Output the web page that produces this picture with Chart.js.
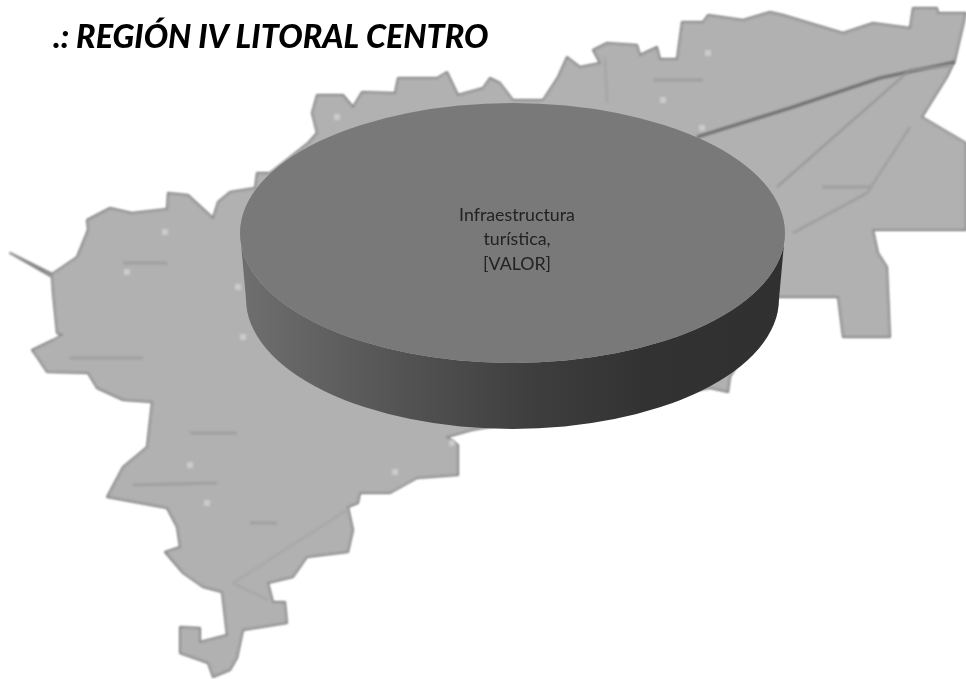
<!DOCTYPE html>
<html>
<head>
<meta charset="utf-8">
<title>Región IV Litoral Centro</title>
<script src="https://cdn.jsdelivr.net/npm/chart.js@4"></script>
<style>
  html, body { margin: 0; background: #fff; }
  canvas { display: block; }
</style>
</head>
<body>
<canvas id="myChart" width="966" height="679"></canvas>
<script>
// data
const categories = ['Infraestructura turística'];
const values = [100];
const labelLines = ['Infraestructura', 'turística,', '[VALOR]'];
const chartTitle = '.: REGIÓN IV LITORAL CENTRO';

// backdrop map
const mapOutline = [
  [10,253],[52,274],[77,257],[88,230],[87,220],[110,208],[132,213],[167,209],[168,193],[188,195],
  [213,218],[218,202],[230,192],[255,188],[257,173],[270,173],[308,143],[317,133],[312,113],[317,95],
  [343,95],[353,107],[362,92],[395,93],[398,78],[437,78],[447,72],[458,95],[483,88],[490,78],
  [500,83],[513,100],[543,100],[558,77],[567,57],[580,67],[600,63],[593,50],[607,43],[637,45],
  [640,55],[657,47],[660,59],[677,59],[682,22],[703,22],[708,15],[743,20],[770,12],[783,15],
  [843,33],[873,23],[910,28],[913,8],[937,8],[938,13],[966,13],[955,60],[947,77],[922,117],
  [966,143],[966,230],[873,230],[878,253],[887,267],[890,337],[843,337],[838,297],[778,297],[730,377],
  [728,392],[710,388],[472,430],[447,437],[458,445],[458,475],[417,478],[390,493],[360,493],[358,503],
  [348,507],[353,530],[348,552],[307,557],[293,577],[268,583],[273,602],[285,602],[287,623],[243,630],
  [237,658],[230,670],[213,677],[208,663],[180,653],[180,627],[200,628],[200,642],[227,635],[222,592],
  [203,587],[183,573],[165,552],[180,547],[177,527],[167,508],[107,497],[123,467],[147,447],[152,402],
  [123,400],[97,388],[88,373],[47,372],[37,357],[32,350],[53,340],[62,335],[57,333],[53,293],[52,277]
];
const mapRoads = [
  { color: '#6f6f6f', width: 3, pts: [[955,62],[880,78],[790,108],[697,137]] },
  { color: '#969696', width: 2, pts: [[950,66],[910,70],[777,187]] },
  { color: '#9c9c9c', width: 2, pts: [[910,127],[867,193],[793,233]] },
  { color: '#a4a4a4', width: 2, pts: [[605,57],[607,103]] },
  { color: '#a6a6a6', width: 2, pts: [[347,510],[233,583],[268,600]] }
];
const mapSmudges = [
  [123,263,167,263],[653,80,703,80],[822,187,872,187],[70,358,143,358],
  [190,433,237,433],[133,485,217,483],[250,523,277,523]
];
const mapDots = [
  [337,117],[165,232],[127,272],[238,287],[243,337],[708,53],[663,100],[702,128],
  [190,465],[207,503],[452,443],[395,472]
];

const tilt = { cx: 512.5, cy: 233, squash: 130 / 272.5, depth: 66 };

const drawPath = function (ctx, pts) {
  ctx.beginPath();
  pts.forEach((p, i) => i ? ctx.lineTo(p[0], p[1]) : ctx.moveTo(p[0], p[1]));
};

const mapPlugin = {
  id: 'mapBackdrop',
  beforeDraw(chart) {
    const ctx = chart.ctx;
    ctx.save();
    ctx.filter = 'blur(1.2px)';
    ctx.lineJoin = 'round';
    drawPath(ctx, mapOutline);
    ctx.closePath();
    ctx.fillStyle = '#b1b1b1';
    ctx.fill();
    ctx.strokeStyle = '#858585';
    ctx.lineWidth = 2;
    ctx.stroke();
    mapRoads.forEach(r => {
      drawPath(ctx, r.pts);
      ctx.strokeStyle = r.color;
      ctx.lineWidth = r.width;
      ctx.stroke();
    });
    ctx.strokeStyle = '#a0a0a0';
    ctx.lineWidth = 3;
    mapSmudges.forEach(s => {
      drawPath(ctx, [[s[0], s[1]], [s[2], s[3]]]);
      ctx.stroke();
    });
    ctx.fillStyle = '#cbcbcb';
    mapDots.forEach(d => ctx.fillRect(d[0] - 3, d[1] - 3, 6, 6));
    ctx.restore();
  }
};

// squash the flat pie to an ellipse and give it a wall
const tiltPlugin = {
  id: 'tiltedPie',
  beforeDatasetsDraw(chart) {
    const ctx = chart.ctx;
    const r = chart.getDatasetMeta(0).data[0].outerRadius;
    const ry = r * tilt.squash;
    const grad = ctx.createLinearGradient(tilt.cx - r, 0, tilt.cx + r, 0);
    grad.addColorStop(0, '#6f6f6f');
    grad.addColorStop(0.3, '#535353');
    grad.addColorStop(0.55, '#3d3d3d');
    grad.addColorStop(0.75, '#323232');
    grad.addColorStop(1, '#303030');
    ctx.save();
    ctx.beginPath();
    ctx.ellipse(tilt.cx, tilt.cy, r, ry, 0, Math.PI, 0, true);
    ctx.ellipse(tilt.cx, tilt.cy + tilt.depth, r - 6, ry, 0, 0, Math.PI, false);
    ctx.closePath();
    ctx.fillStyle = grad;
    ctx.fill();
    ctx.restore();
  },
  beforeDatasetDraw(chart) {
    const ctx = chart.ctx;
    const arc = chart.getDatasetMeta(0).data[0];
    ctx.save();
    ctx.translate(tilt.cx, tilt.cy);
    ctx.scale(1, tilt.squash);
    ctx.translate(-arc.x, -arc.y);
  },
  afterDatasetDraw(chart) {
    chart.ctx.restore();
  },
  afterDatasetsDraw(chart) {
    const ctx = chart.ctx;
    ctx.save();
    ctx.font = '17.8px Lato';
    ctx.fillStyle = '#222';
    ctx.textAlign = 'center';
    ctx.textBaseline = 'middle';
    labelLines.forEach((line, i) => ctx.fillText(line, 517, 215 + i * 24.5));
    ctx.restore();
  }
};

const ctx = document.getElementById('myChart');

new Chart(ctx, {
  type: 'pie',
  data: {
    labels: categories,
    datasets: [{
      data: values,
      backgroundColor: ['#797979'],
      borderWidth: 0,
      radius: 272.5
    }]
  },
  options: {
    responsive: false,
    animation: false,
    events: [],
    layout: { padding: { left: 53, top: 18 } },
    plugins: {
      legend: { display: false },
      tooltip: { enabled: false },
      title: {
        display: true,
        text: chartTitle,
        align: 'start',
        color: '#000',
        font: { family: "'Lato Black', Lato", size: 32.3, weight: '900', style: 'italic' },
        padding: 0
      }
    }
  },
  plugins: [mapPlugin, tiltPlugin]
});
</script>
</body>
</html>
